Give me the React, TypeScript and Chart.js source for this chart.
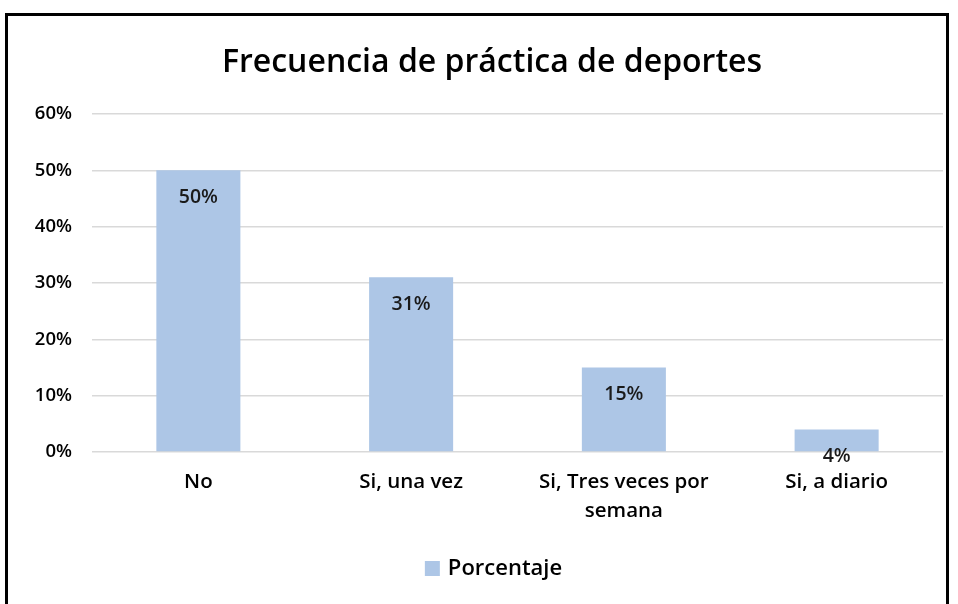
import React, { useEffect, useRef } from "react";
import { Chart, registerables } from "chart.js";

Chart.register(...registerables);

const TITLE = "Frecuencia de práctica de deportes";
const CATEGORIES: (string | string[])[] = ["No", "Si, una vez", ["Si, Tres veces por", "semana"], "Si, a diario"];
const SERIES_NAME = "Porcentaje";
const VALUES = [0.5, 0.31, 0.15, 0.04];
const VALUE_LABELS = ["50%", "31%", "15%", "4%"];

const FONT = "'Open Sans', 'Noto Sans', sans-serif";
const BAR_COLOR = "#ADC6E6";

const labelPlugin = {
  id: "insideEndLabels",
  afterDatasetsDraw(chart: any) {
    const meta = chart.getDatasetMeta(0);
    const ctx = chart.ctx;
    ctx.save();
    ctx.font = `600 19.5px ${FONT}`;
    ctx.fillStyle = "#1a1a1a";
    ctx.textAlign = "center";
    ctx.textBaseline = "middle";
    meta.data.forEach((bar: any, i: number) => {
      ctx.fillText(VALUE_LABELS[i], bar.x, bar.y + 27);
    });
    ctx.restore();
  },
};

// Title and legend drawn manually so they can sit off-centre like the reference.
const titleLegendPlugin = {
  id: "titleLegend",
  afterDraw(chart: any) {
    const ctx = chart.ctx;
    ctx.save();
    // Title
    ctx.font = `600 32px ${FONT}`;
    ctx.fillStyle = "#000";
    ctx.textAlign = "center";
    ctx.textBaseline = "alphabetic";
    ctx.fillText(TITLE, 492, 72);
    // Legend
    const ds = chart.data.datasets[0];
    ctx.font = `600 22px ${FONT}`;
    const tw = ctx.measureText(ds.label).width;
    const boxW = 15;
    const gap = 8;
    const total = boxW + gap + tw;
    const left = 493.5 - total / 2;
    ctx.fillStyle = ds.backgroundColor;
    ctx.fillRect(left, 561, boxW, 15);
    ctx.fillStyle = "#000";
    ctx.textAlign = "left";
    ctx.fillText(ds.label, left + boxW + gap, 575);
    ctx.restore();
  },
};

export default function App() {
  const ref = useRef<HTMLCanvasElement>(null);
  useEffect(() => {
    if (!ref.current) return;
    const chart = new Chart(ref.current, {
      type: "bar",
      data: {
        labels: CATEGORIES,
        datasets: [
          {
            label: SERIES_NAME,
            data: VALUES,
            backgroundColor: BAR_COLOR,
            categoryPercentage: 1,
            barPercentage: 0.395,
          },
        ],
      },
      options: {
        animation: false,
        responsive: false,
        maintainAspectRatio: false,
        layout: { padding: { left: 0, right: 15, top: 114, bottom: 55 } },
        plugins: {
          title: { display: false },
          legend: { display: false },
          tooltip: { enabled: false },
        },
        scales: {
          x: {
            grid: { display: false, drawTicks: false },
            border: { display: false },
            ticks: {
              color: "#000",
              font: { family: FONT, size: 20.5, weight: "600", lineHeight: 1.45 },
              padding: 15,
              maxRotation: 0,
              autoSkip: false,
            },
            afterFit(scale: any) {
              scale.height = 97;
            },
          },
          y: {
            min: 0,
            max: 0.6,
            grid: { color: "#D9D9D9", lineWidth: 1.5, drawTicks: false },
            border: { display: false },
            ticks: {
              stepSize: 0.1,
              color: "#000",
              font: { family: FONT, size: 18.5, weight: "600" },
              padding: 20,
              callback: (v: any) => Math.round(Number(v) * 100) + "%",
            },
            afterFit(scale: any) {
              scale.width = 92;
            },
          },
        },
      },
      plugins: [labelPlugin, titleLegendPlugin],
    });
    return () => chart.destroy();
  }, []);

  return (
    <div style={{ position: "absolute", left: 0, top: 0, width: 958, height: 604, overflow: "hidden", background: "#fff" }}>
      <div
        style={{
          position: "absolute",
          left: 5,
          top: 13,
          width: 944,
          height: 620,
          border: "3px solid #000",
          boxSizing: "border-box",
        }}
      />
      <canvas ref={ref} width={958} height={604} style={{ position: "absolute", left: 0, top: 0 }} />
    </div>
  );
}
